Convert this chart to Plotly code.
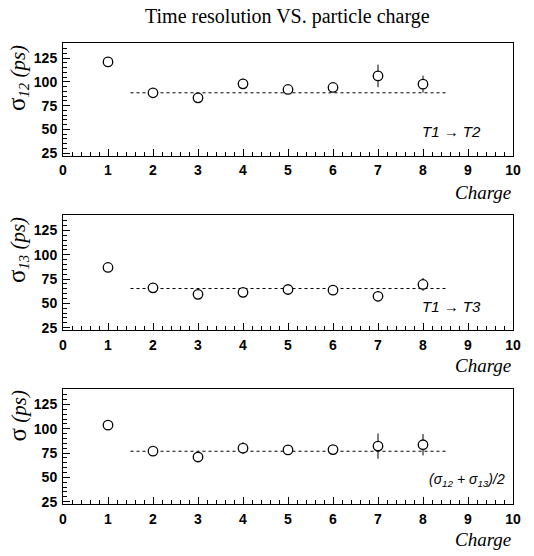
import plotly.graph_objects as go

# Particle charge (Z) values
charge = [1, 2, 3, 4, 5, 6, 7, 8]

# Time resolution T1 -> T2 (ps) with uncertainties
sigma12 = [121.1, 88.6, 83.3, 98.0, 92.1, 94.2, 106.4, 97.7]
sigma12_err = [2.0, 2.0, 2.0, 5.5, 3.0, 3.0, 11.9, 8.9]

# Time resolution T1 -> T3 (ps) with uncertainties
sigma13 = [87.0, 66.0, 59.3, 61.4, 64.3, 63.6, 57.3, 69.5]
sigma13_err = [2.0, 2.0, 2.0, 2.0, 2.5, 2.5, 5.2, 6.6]

# Averaged resolution (sigma12 + sigma13)/2 (ps) with uncertainties
sigma_avg = [103.8, 77.0, 71.0, 80.1, 78.3, 78.6, 82.2, 83.6]
sigma_avg_err = [2.0, 2.0, 2.0, 6.0, 5.0, 2.5, 13.0, 11.0]

# Constant fits over Z = 2..8
fit_range = [1.5, 8.5]
fit_levels = [88.6, 65.3, 76.9]

x_ticks = list(range(0, 11))
y_ticks = [25, 50, 75, 100, 125]

W, H = 534, 556
L, R, T, B = 63, 21, 43, 52
plot_h = H - T - B

def dom(top_px, bot_px):
    return [(H - B - bot_px) / plot_h, (H - B - top_px) / plot_h]

domains = [dom(43, 155.5), dom(215, 330), dom(389, 504)]

sig = "<span style='font-size:25px'>σ</span>"
series = [
    (sigma12, sigma12_err, fit_levels[0], sig + "<sub><i>12</i></sub> <i>(ps)</i>", "<i>T1 → T2</i>", 15, 9.34),
    (sigma13, sigma13_err, fit_levels[1], sig + "<sub><i>13</i></sub> <i>(ps)</i>", "<i>T1 → T3</i>", 15, 9.34),
    (sigma_avg, sigma_avg_err, fit_levels[2], sig + " <i>(ps)</i>",
     "<i>(σ<sub>12</sub> + σ<sub>13</sub>)/2</i>", 14, 9.86),
]

fig = go.Figure()
annotations = []
layout = dict(
    width=W, height=H,
    margin=dict(l=L, r=R, t=T, b=B, pad=0),
    paper_bgcolor="white", plot_bgcolor="white",
    showlegend=False,
)

tick_font = dict(family="Liberation Sans, Arial, sans-serif", size=14, color="black")

for i, (vals, errs, fit, ytitle, label, lsize, lx) in enumerate(series):
    n = "" if i == 0 else str(i + 1)
    xa, ya = "x" + n, "y" + n
    fig.add_trace(go.Scatter(
        x=fit_range, y=[fit, fit], mode="lines",
        line=dict(color="black", width=1, dash="3px,3px"),
        xaxis=xa, yaxis=ya, hoverinfo="skip",
    ))
    fig.add_trace(go.Scatter(
        x=charge, y=vals, mode="markers",
        marker=dict(symbol="circle", size=9.5, color="white", line=dict(width=1.3, color="black")),
        error_y=dict(type="data", array=errs, visible=True, color="black", thickness=1, width=0),
        xaxis=xa, yaxis=ya,
    ))
    layout["xaxis" + n] = dict(
        domain=[0, 1], anchor=ya, range=[0, 10],
        tickmode="array", tickvals=x_ticks, ticktext=["<b>%d</b>" % v for v in x_ticks],
        ticks="inside", ticklen=7, tickwidth=1, tickcolor="black",
        minor=dict(ticks="inside", ticklen=4, dtick=0.2, tickcolor="black", tickwidth=1, showgrid=False),
        showline=True, linecolor="black", linewidth=1, mirror=True,
        showgrid=False, zeroline=False, tickfont=tick_font, ticklabelstandoff=2,
    )
    layout["yaxis" + n] = dict(
        domain=domains[i], anchor=xa, range=[22.6, 141],
        tickmode="array", tickvals=y_ticks, ticktext=["<b>%d</b>" % v for v in y_ticks],
        ticks="inside", ticklen=7, tickwidth=1, tickcolor="black",
        minor=dict(ticks="inside", ticklen=4, dtick=5, tick0=0, tickcolor="black", tickwidth=1, showgrid=False),
        showline=True, linecolor="black", linewidth=1, mirror=True,
        showgrid=False, zeroline=False, tickfont=tick_font, ticklabelstandoff=2,
    )
    # y-axis title, starting at the top of the frame
    annotations.append(dict(
        text=ytitle, textangle=-90, xref="paper", yref="paper",
        x=-46 / (W - L - R), y=domains[i][1], xanchor="center", yanchor="top",
        showarrow=False, font=dict(family="Liberation Serif, Times New Roman, serif", size=21, color="black"),
    ))
    # x-axis title
    annotations.append(dict(
        text="<i>Charge</i>", xref="paper", yref="paper",
        x=1.0, y=domains[i][0], yshift=-35 if i else -37, xanchor="right", yanchor="middle",
        showarrow=False, font=dict(family="Liberation Serif, Times New Roman, serif", size=19, color="black"),
    ))
    # panel label
    annotations.append(dict(
        text=label, xref=xa, yref=ya + " domain",
        x=lx, y=0, yshift=24, xanchor="right", yanchor="middle",
        showarrow=False, font=dict(family="Liberation Sans, Arial, sans-serif", size=lsize, color="black"),
    ))

annotations.append(dict(
    text="Time resolution VS. particle charge", xref="paper", yref="paper",
    x=0.499, y=1, yshift=27, xanchor="center", yanchor="middle",
    showarrow=False, font=dict(family="Liberation Serif, Times New Roman, serif", size=20, color="black"),
))

layout["annotations"] = annotations
fig.update_layout(**layout)
fig.write_html("out.html")
